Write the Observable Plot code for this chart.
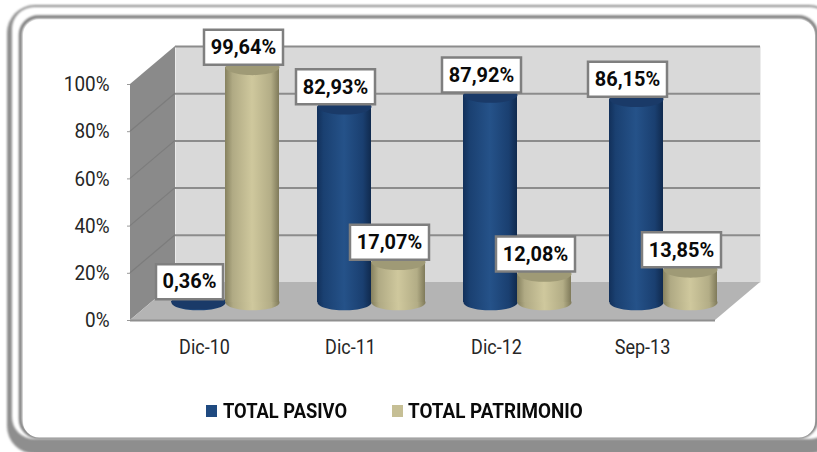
<!DOCTYPE html>
<html><head><meta charset="utf-8">
<script src="https://cdn.jsdelivr.net/npm/d3@7"></script>
<script src="https://cdn.jsdelivr.net/npm/@observablehq/plot@0.6"></script>
<style>
html,body{margin:0;padding:0;background:#fff;overflow:hidden}
#chart{position:relative;width:817px;height:452px}
#chart svg{position:absolute;left:0;top:0;overflow:hidden}
.lg{position:absolute;font:700 19.5px Roboto,sans-serif;color:#0a0a0a;line-height:20px;white-space:nowrap;transform-origin:0 50%}
.sw{position:absolute;width:11px;height:12px}
</style></head><body><div id="chart"></div>
<script>
const categories = ["Dic-10","Dic-11","Dic-12","Sep-13"];
const pasivo = [0.36,82.93,87.92,86.15];
const patrimonio = [99.64,17.07,12.08,13.85];
const labelsPasivo = ["0,36%","82,93%","87,92%","86,15%"];
const labelsPatrimonio = ["99,64%","17,07%","12,08%","13,85%"];
const yTicks = [0,20,40,60,80,100];
const pasivoRows = categories.map((c,i)=>({cat:c,value:pasivo[i],label:labelsPasivo[i]}));
const patrimonioRows = categories.map((c,i)=>({cat:c,value:patrimonio[i],label:labelsPatrimonio[i]}));

const depthX = 45, floorDy = 18, backDy = -20;
const ellipse = {draw(ctx,size){
  const rx=Math.sqrt(size/Math.PI), ry=rx*0.29, k=0.5523;
  ctx.moveTo(-rx,0);
  ctx.bezierCurveTo(-rx,-ry*k,-rx*k,-ry,0,-ry);
  ctx.bezierCurveTo(rx*k,-ry,rx,-ry*k,rx,0);
  ctx.bezierCurveTo(rx,ry*k,rx*k,ry,0,ry);
  ctx.bezierCurveTo(-rx*k,ry,-rx,ry*k,-rx,0);
  ctx.closePath();
}};
const box = {draw(ctx,size){
  const hw=Math.sqrt(size/Math.PI), hh=17.5;
  ctx.moveTo(-hw,-hh);ctx.lineTo(hw,-hh);ctx.lineTo(hw,hh);ctx.lineTo(-hw,hh);ctx.closePath();
}};
function defs(){
  return d3.create("svg:defs").html(`
  <linearGradient id="gb" x1="0" x2="1" y1="0" y2="0">
   <stop offset="0" stop-color="#12305a"/><stop offset=".12" stop-color="#1a4071"/>
   <stop offset=".5" stop-color="#255289"/><stop offset=".85" stop-color="#1a3f70"/><stop offset="1" stop-color="#102a4e"/>
  </linearGradient>
  <linearGradient id="gp" x1="0" x2="1" y1="0" y2="0">
   <stop offset="0" stop-color="#86815f"/><stop offset=".14" stop-color="#b0aa84"/>
   <stop offset=".5" stop-color="#cfc89d"/><stop offset=".85" stop-color="#b3ad86"/><stop offset="1" stop-color="#7f7a5a"/>
  </linearGradient>
  <filter id="bl" x="-5%" y="-5%" width="110%" height="110%"><feGaussianBlur stdDeviation="1.2"/></filter>
  <filter id="bl2" x="-5%" y="-5%" width="110%" height="110%"><feGaussianBlur stdDeviation=".9"/></filter>`).node();
}
function panel(){
  const g=d3.create("svg:g");
  g.append("rect").attr("x",7).attr("y",5).attr("width",830).attr("height",449).attr("rx",28).attr("fill","#8e8e8e").attr("filter","url(#bl)");
  g.append("rect").attr("x",12).attr("y",7).attr("width",820).attr("height",432).attr("rx",22).attr("fill","#fff").attr("filter","url(#bl2)");
  g.append("rect").attr("x",20.5).attr("y",17).attr("width",796).attr("height",420).attr("rx",18).attr("fill","#fff").attr("stroke","#7d7d7d").attr("stroke-width",3.5).attr("filter","url(#bl2)");
  g.append("rect").attr("x",23).attr("y",19.5).attr("width",792).attr("height",418).attr("rx",16).attr("fill","#fff");
  g.append("line").attr("x1",28).attr("x2",817).attr("y1",444.5).attr("y2",444.5).attr("stroke","#a8a8a8").attr("stroke-width",1.5).attr("filter","url(#bl2)");
  return g.node();
}
function walls(index,{y},values,dims){
  const l=dims.marginLeft, r=dims.width-dims.marginRight, y0=y(0), y1=y(100);
  const g=d3.create("svg:g");
  g.append("polygon").attr("fill","#8a8a8a")
   .attr("points",[[l,y1+floorDy],[l+depthX,y1+backDy],[l+depthX,y0+backDy],[l,y0+floorDy]].join(" "));
  for(const t of yTicks.slice(1,-1)){
    g.append("line").attr("x1",l).attr("y1",y(t)+floorDy).attr("x2",l+depthX).attr("y2",y(t)+backDy).attr("stroke","#7c7c7c").attr("stroke-width",1.2);
  }
  g.append("polygon").attr("fill","#b4b4b4")
   .attr("points",[[l,y0+floorDy],[l+depthX,y0+backDy],[r+depthX,y0+backDy],[r,y0+floorDy]].join(" "));
  g.append("line").attr("x1",l).attr("x2",r).attr("y1",y0+floorDy+.5).attr("y2",y0+floorDy+.5).attr("stroke","#8f8f8f").attr("stroke-width",2);
  return g.node();
}
function cylinder(rows,fill,top,dx){
  return [
    Plot.dot(rows,{x:"cat",y:()=>0,r:27,symbol:ellipse,fill,dx}),
    Plot.barY(rows,{x:"cat",y:"value",fill,dx,insetLeft:46,insetRight:46}),
    Plot.dot(rows,{x:"cat",y:"value",r:27,symbol:ellipse,fill:top,dx})
  ];
}
function labels(rows,dx){
  const o={x:"cat",y:"value",dx:dx-9,dy:-20};
  const bx=(f,r)=>Plot.dot(rows.filter(f),{...o,r,symbol:box,fill:"#fff",stroke:"#7f7f7f",strokeWidth:2.5});
  return [
    bx(d=>d.label.length>5,39.5), bx(d=>d.label.length<=5,33.5),
    Plot.text(rows,{...o,text:"label",fontFamily:"Roboto",fontWeight:700,fontSize:21,fill:"#0a0a0a"})
  ];
}
const plot = Plot.plot({
  width:817,height:452,marginLeft:130,marginRight:102,marginTop:66,marginBottom:150,
  x:{domain:categories,padding:0,label:null},
  y:{domain:[0,100],label:null},
  style:{background:"transparent"},
  marks:[
    defs,panel,
    Plot.frame({fill:"#d9d9d9",stroke:"none",dx:depthX,dy:backDy}),
    Plot.ruleY(yTicks.slice(1),{dx:depthX,dy:backDy,stroke:"#8c8c8c",strokeWidth:2}),
    walls,
    Plot.axisY({ticks:yTicks,tickFormat:d=>d+"%",dy:floorDy,tickSize:3,tickPadding:18,fontSize:21,fontFamily:"Roboto",stroke:"#999",fill:"#262626",label:null}),
    Plot.axisX({tickSize:0,tickPadding:0,dy:37,fontSize:20,fontFamily:"Roboto",fill:"#262626",label:null}),
    ...cylinder(pasivoRows,"url(#gb)","#1a3a68",-6),
    ...cylinder(patrimonioRows,"url(#gp)","#9f9a76",48),
    ...labels(pasivoRows,-6),
    ...labels(patrimonioRows,48)
  ]
});
const chart=document.getElementById("chart");
chart.appendChild(plot);
// The reference font is tall and narrow: squeeze the glyphs horizontally.
d3.select(plot).selectAll("text").each(function(){
  const n=this.getComputedTextLength();
  const bold=+getComputedStyle(this).fontWeight>=600;
  this.setAttribute("lengthAdjust","spacingAndGlyphs");
  this.setAttribute("textLength",(n*(bold?0.95:0.9)).toFixed(1));
});
const legend=[["TOTAL PASIVO","#1f4a80",206,223,124],["TOTAL PATRIMONIO","#c6bf95",392,408,175]];
for(const [t,c,sx,tx,w] of legend){
  const s=document.createElement("div");s.className="sw";s.style.cssText=`left:${sx}px;top:404.5px;background:${c}`;chart.appendChild(s);
  const d=document.createElement("div");d.className="lg";d.textContent=t;d.style.cssText=`left:${tx}px;top:402px`;chart.appendChild(d);
  d.style.transform=`scaleX(${w/d.offsetWidth})`;
}
</script></body></html>
